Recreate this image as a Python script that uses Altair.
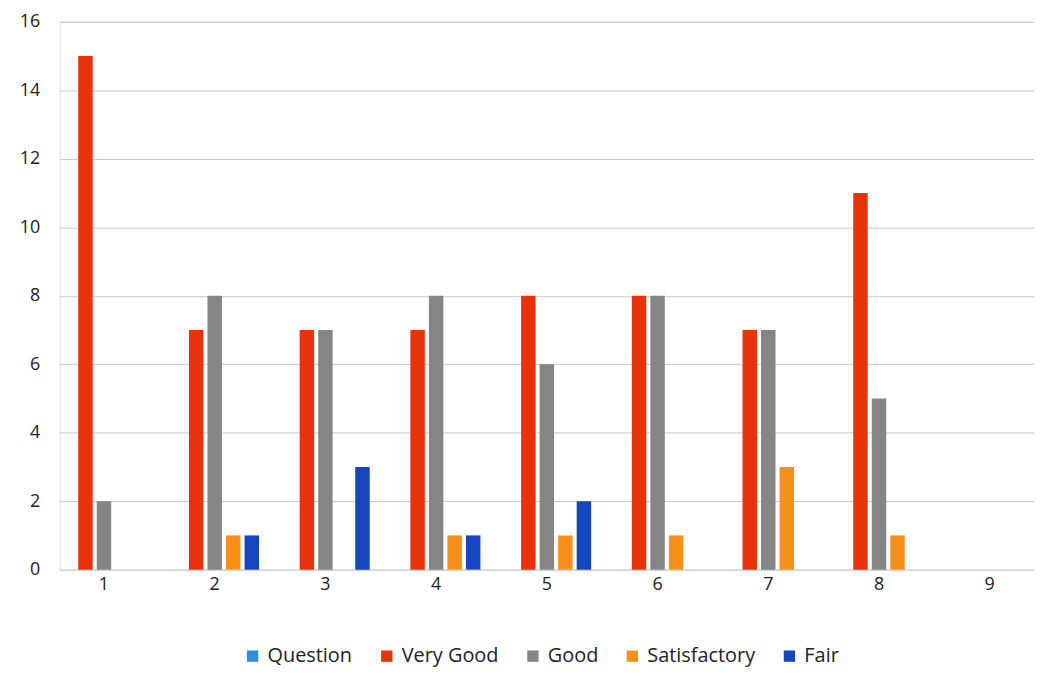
import altair as alt
import pandas as pd

groups = ["1", "2", "3", "4", "5", "6", "7", "8", "9"]
series = ["Question", "Very Good", "Good", "Satisfactory", "Fair"]
colors = ["#2a8fdc", "#e8320c", "#858585", "#f7901a", "#1446be"]

question = [0, 0, 0, 0, 0, 0, 0, 0, 0]
very_good = [15, 7, 7, 7, 8, 8, 7, 11, 0]
good = [2, 8, 7, 8, 6, 8, 7, 5, 0]
satisfactory = [0, 1, 0, 1, 1, 1, 3, 1, 0]
fair = [0, 1, 3, 1, 2, 0, 0, 0, 0]

values = {"Question": question, "Very Good": very_good, "Good": good,
          "Satisfactory": satisfactory, "Fair": fair}
rows = []
for s in series:
    for g, v in zip(groups, values[s]):
        rows.append({"group": g, "series": s, "value": v})
df = pd.DataFrame(rows)

chart = alt.Chart(df).mark_bar().encode(
    x=alt.X("group:N", sort=groups, title=None,
            scale=alt.Scale(paddingInner=0.2, paddingOuter=0.0),
            axis=alt.Axis(labelAngle=0, labelFontSize=18, labelColor="#222",
                          labelFont="Open Sans", domain=False, ticks=False,
                          labelPadding=6, grid=False)),
    xOffset=alt.XOffset("series:N", sort=series,
                        scale=alt.Scale(paddingInner=0.22)),
    y=alt.Y("value:Q", title=None,
            scale=alt.Scale(domain=[0, 16]),
            axis=alt.Axis(values=list(range(0, 17, 2)), labelFontSize=18,
                          labelColor="#222", labelFont="Open Sans",
                          domain=False, ticks=False, labelPadding=20,
                          gridColor="#c8c8c8", gridWidth=1)),
    color=alt.Color("series:N", sort=series,
                    scale=alt.Scale(domain=series, range=colors),
                    legend=alt.Legend(orient="none", direction="horizontal",
                                      legendX=184, legendY=628,
                                      title=None, symbolType="square",
                                      symbolSize=130, symbolStrokeWidth=0,
                                      symbolOffset=0,
                                      labelFontSize=20, labelFont="Open Sans",
                                      labelColor="#222", columnPadding=24,
                                      labelOffset=5, labelLimit=300)),
).properties(
    width=980, height=551,
    autosize=alt.AutoSizeParams(type="none"),
    padding={"left": 52, "top": 12, "right": 0, "bottom": 98},
).configure_view(stroke=None).configure(background="#ffffff")

chart.save("out.html", embed_options={"renderer": "svg", "actions": False})
